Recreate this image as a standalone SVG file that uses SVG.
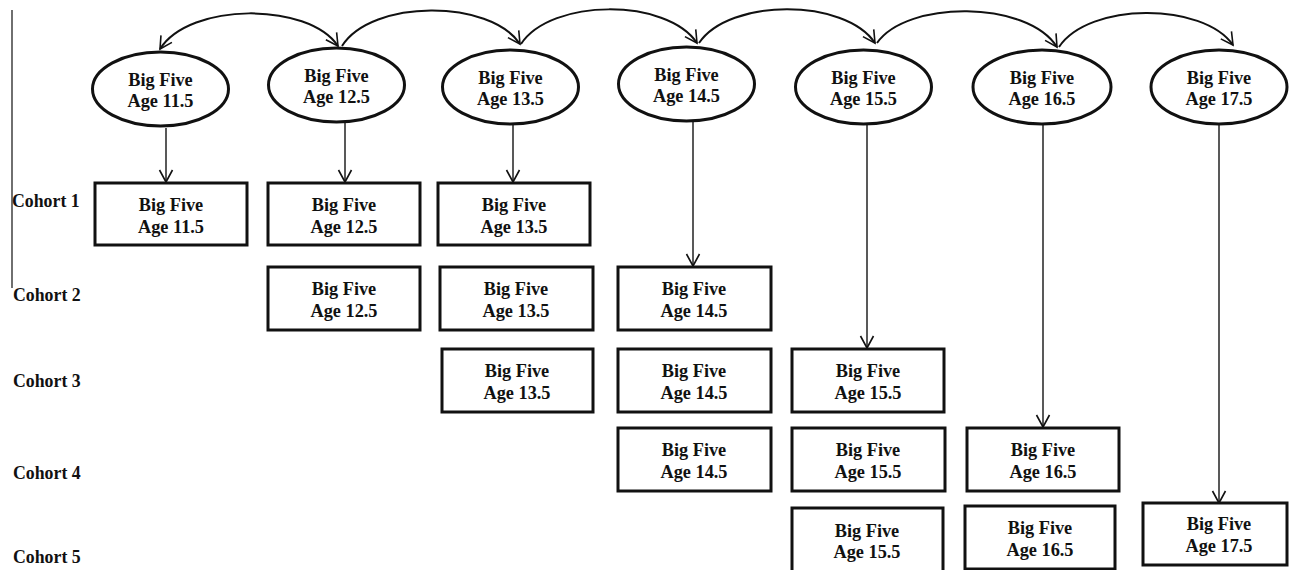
<svg xmlns="http://www.w3.org/2000/svg" width="1290" height="570" viewBox="0 0 1290 570">
<style>
.t{font-family:"Liberation Serif","Times New Roman",serif;font-weight:bold;font-size:18.3px;fill:#111;text-anchor:middle}
.c{font-family:"Liberation Serif","Times New Roman",serif;font-weight:bold;font-size:17.8px;fill:#111}
.box{fill:#fff;stroke:#111;stroke-width:3}
.ell{fill:#fff;stroke:#111;stroke-width:3}
.arc{fill:none;stroke:#111;stroke-width:2}
.vl{fill:none;stroke:#222;stroke-width:1.5}
</style>
<defs>
<marker id="ah" markerUnits="userSpaceOnUse" viewBox="-2 -2 20 18" markerWidth="20" markerHeight="18" refX="12" refY="7" orient="auto-start-reverse">
<path d="M0,0.5 L12,7 L0,13.5" fill="none" stroke="#111" stroke-width="1.6"/>
</marker>
</defs>
<rect width="1290" height="570" fill="#fff"/>
<line x1="12" y1="10" x2="12" y2="288" stroke="#222" stroke-width="1.3"/>
<g id="labels">
<text class="c" x="12" y="207">Cohort 1</text>
<text class="c" x="13" y="301">Cohort 2</text>
<text class="c" x="13" y="387">Cohort 3</text>
<text class="c" x="13" y="479">Cohort 4</text>
<text class="c" x="13" y="563">Cohort 5</text>
</g>
<g id="connectors">
<path class="arc" d="M160,49 C190,2 308,2 338,46" marker-start="url(#ah)" marker-end="url(#ah)"/>
<path class="arc" d="M342,46 C372,-1 490,-1 520,44" marker-end="url(#ah)"/>
<path class="arc" d="M521,44 C551,-2 667,-2 697,43" marker-end="url(#ah)"/>
<path class="arc" d="M699,43 C729,-2 845,-2 875,43" marker-end="url(#ah)"/>
<path class="arc" d="M877,43 C907,0 1027,0 1057,47" marker-end="url(#ah)"/>
<path class="arc" d="M1059,47 C1089,2 1203,2 1233,45" marker-end="url(#ah)"/>
<path class="vl" d="M166,128 L166,182" marker-end="url(#ah)"/>
<path class="vl" d="M345,123 L345,182" marker-end="url(#ah)"/>
<path class="vl" d="M513,125 L513,182" marker-end="url(#ah)"/>
<path class="vl" d="M693,122 L693,266" marker-end="url(#ah)"/>
<path class="vl" d="M867,125 L867,348" marker-end="url(#ah)"/>
<path class="vl" d="M1043,125 L1043,427" marker-end="url(#ah)"/>
<path class="vl" d="M1219,125 L1219,503" marker-end="url(#ah)"/>
</g>
<g id="e1"><ellipse class="ell" cx="160.5" cy="89" rx="68" ry="37"/><text class="t" x="160.5" y="86">Big Five</text><text class="t" x="160.5" y="107">Age 11.5</text></g>
<g id="e2"><ellipse class="ell" cx="336.5" cy="85" rx="68" ry="37"/><text class="t" x="336.5" y="82">Big Five</text><text class="t" x="336.5" y="103">Age 12.5</text></g>
<g id="e3"><ellipse class="ell" cx="510.5" cy="87" rx="68" ry="37"/><text class="t" x="510.5" y="84">Big Five</text><text class="t" x="510.5" y="105">Age 13.5</text></g>
<g id="e4"><ellipse class="ell" cx="686.5" cy="84" rx="68" ry="37"/><text class="t" x="686.5" y="81">Big Five</text><text class="t" x="686.5" y="102">Age 14.5</text></g>
<g id="e5"><ellipse class="ell" cx="863.5" cy="87" rx="68" ry="37"/><text class="t" x="863.5" y="84">Big Five</text><text class="t" x="863.5" y="105">Age 15.5</text></g>
<g id="e6"><ellipse class="ell" cx="1042" cy="87" rx="69" ry="37"/><text class="t" x="1042" y="84">Big Five</text><text class="t" x="1042" y="105">Age 16.5</text></g>
<g id="e7"><ellipse class="ell" cx="1219" cy="87" rx="68" ry="37"/><text class="t" x="1219" y="84">Big Five</text><text class="t" x="1219" y="105">Age 17.5</text></g>
<g id="c1a"><rect class="box" x="95" y="183" width="152" height="62"/><text class="t" x="171" y="211">Big Five</text><text class="t" x="171" y="233">Age 11.5</text></g>
<g id="c1b"><rect class="box" x="268" y="183" width="152" height="62"/><text class="t" x="344" y="211">Big Five</text><text class="t" x="344" y="233">Age 12.5</text></g>
<g id="c1c"><rect class="box" x="438" y="183" width="152" height="62"/><text class="t" x="514" y="211">Big Five</text><text class="t" x="514" y="233">Age 13.5</text></g>
<g id="c2a"><rect class="box" x="268" y="267" width="152" height="63"/><text class="t" x="344" y="295">Big Five</text><text class="t" x="344" y="317">Age 12.5</text></g>
<g id="c2b"><rect class="box" x="440" y="267" width="153" height="63"/><text class="t" x="516" y="295">Big Five</text><text class="t" x="516" y="317">Age 13.5</text></g>
<g id="c2c"><rect class="box" x="618" y="267" width="153" height="63"/><text class="t" x="694" y="295">Big Five</text><text class="t" x="694" y="317">Age 14.5</text></g>
<g id="c3a"><rect class="box" x="442" y="349" width="151" height="63"/><text class="t" x="517" y="377">Big Five</text><text class="t" x="517" y="399">Age 13.5</text></g>
<g id="c3b"><rect class="box" x="618" y="349" width="153" height="63"/><text class="t" x="694" y="377">Big Five</text><text class="t" x="694" y="399">Age 14.5</text></g>
<g id="c3c"><rect class="box" x="792" y="349" width="152" height="63"/><text class="t" x="868" y="377">Big Five</text><text class="t" x="868" y="399">Age 15.5</text></g>
<g id="c4a"><rect class="box" x="618" y="428" width="153" height="63"/><text class="t" x="694" y="456">Big Five</text><text class="t" x="694" y="478">Age 14.5</text></g>
<g id="c4b"><rect class="box" x="792" y="428" width="153" height="63"/><text class="t" x="868" y="456">Big Five</text><text class="t" x="868" y="478">Age 15.5</text></g>
<g id="c4c"><rect class="box" x="967" y="428" width="152" height="63"/><text class="t" x="1043" y="456">Big Five</text><text class="t" x="1043" y="478">Age 16.5</text></g>
<g id="c5a"><rect class="box" x="792" y="508" width="151" height="64"/><text class="t" x="867" y="537">Big Five</text><text class="t" x="867" y="558">Age 15.5</text></g>
<g id="c5b"><rect class="box" x="965" y="506" width="150" height="63"/><text class="t" x="1040" y="534">Big Five</text><text class="t" x="1040" y="556">Age 16.5</text></g>
<g id="c5c"><rect class="box" x="1143" y="503" width="144" height="62"/><text class="t" x="1219" y="530">Big Five</text><text class="t" x="1219" y="552">Age 17.5</text></g>
</svg>
